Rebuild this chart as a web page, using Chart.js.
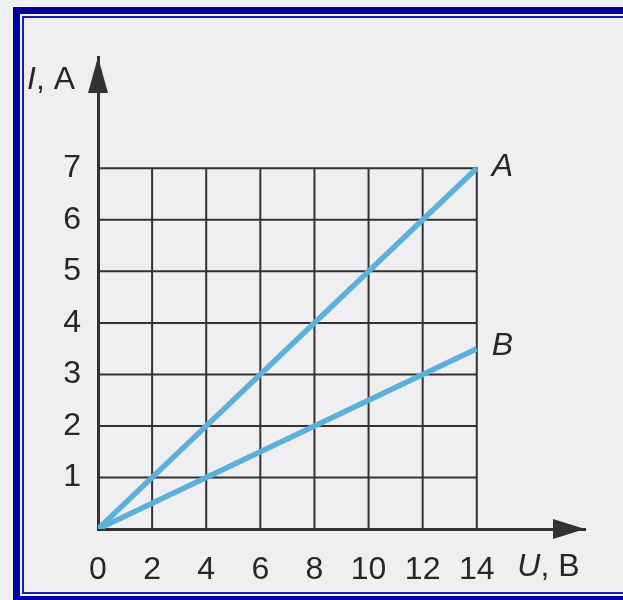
<!DOCTYPE html>
<html lang="ru">
<head>
<meta charset="UTF-8">
<title>I(U)</title>
<script src="https://cdn.jsdelivr.net/npm/chart.js"></script>
<style>
    html, body {
        margin: 0;
        padding: 0;
        width: 623px;
        height: 600px;
        overflow: hidden;
        background: #eef0f6;
    }
    .frame {
        position: absolute;
        left: 13px;
        top: 7px;
        width: 700px;
        height: 596px;
        box-sizing: border-box;
        border: 7px solid #00009a;
        background: #eef0f8;
    }
    .frame-inner {
        position: absolute;
        left: 2px;
        top: 2px;
        right: 2px;
        bottom: 2px;
        border: 2px solid #1c1cb0;
        background: #efeff2;
    }
    #chart {
        position: absolute;
        left: 0;
        top: 0;
    }
</style>
</head>
<body>
<div class="frame"><div class="frame-inner"></div></div>
<canvas id="chart" width="623" height="600"></canvas>
<script>
    // U, B  and  I, A
    const U_VALUES = [0, 14];
    const I_LINE_A = [0, 7];
    const I_LINE_B = [0, 3.5];
    const X_TICKS = [0, 2, 4, 6, 8, 10, 12, 14];
    const Y_TICKS = [1, 2, 3, 4, 5, 6, 7];
    const GRID_X = [2, 4, 6, 8, 10, 12, 14];
    const GRID_Y = [1, 2, 3, 4, 5, 6, 7];

    const INK = '#363131';
    const TEXT = '#2a2626';
    const LINE_BLUE = '#5cb0da';
    const FONT = '"Liberation Sans", Arial, sans-serif';
    const SIZE = 32;

    // grid of squares inside 0..14 x 0..7
    const gridPlugin = {
        id: 'paperGrid',
        beforeDatasetsDraw(chart) {
            const {ctx, scales: {x, y}} = chart;
            ctx.save();
            ctx.strokeStyle = INK;
            ctx.lineWidth = 2;
            ctx.beginPath();
            GRID_X.forEach(v => {
                const px = x.getPixelForValue(v);
                ctx.moveTo(px, y.getPixelForValue(0));
                ctx.lineTo(px, y.getPixelForValue(7) - 1);
            });
            GRID_Y.forEach(v => {
                const py = y.getPixelForValue(v);
                ctx.moveTo(x.getPixelForValue(0), py);
                ctx.lineTo(x.getPixelForValue(14) + 1, py);
            });
            ctx.stroke();
            ctx.restore();
        }
    };

    // arrowheads, axis names and line names
    const annotatePlugin = {
        id: 'annotate',
        afterDraw(chart) {
            const {ctx, chartArea, scales: {x, y}} = chart;
            ctx.save();
            ctx.fillStyle = INK;

            // x arrow
            ctx.beginPath();
            ctx.moveTo(chartArea.right, chartArea.bottom);
            ctx.lineTo(chartArea.right - 32, chartArea.bottom - 10);
            ctx.lineTo(chartArea.right - 32, chartArea.bottom + 10);
            ctx.closePath();
            ctx.fill();

            // y arrow
            ctx.beginPath();
            ctx.moveTo(chartArea.left, chartArea.top);
            ctx.lineTo(chartArea.left - 10, chartArea.top + 36);
            ctx.lineTo(chartArea.left + 10, chartArea.top + 36);
            ctx.closePath();
            ctx.fill();

            ctx.fillStyle = TEXT;
            ctx.textBaseline = 'middle';
            ctx.textAlign = 'left';

            // "I, A"
            let tx = 27;
            let ty = y.getPixelForValue(8.72);
            ctx.font = 'italic ' + SIZE + 'px ' + FONT;
            ctx.fillText('I', tx, ty);
            tx += ctx.measureText('I').width;
            ctx.font = SIZE + 'px ' + FONT;
            ctx.fillText(', A', tx, ty);

            // "U, B"
            tx = x.getPixelForValue(15.5);
            ty = y.getPixelForValue(0) + 38;
            ctx.font = 'italic ' + SIZE + 'px ' + FONT;
            ctx.fillText('U', tx, ty);
            tx += ctx.measureText('U').width;
            ctx.font = SIZE + 'px ' + FONT;
            ctx.fillText(', B', tx, ty);

            // line names
            ctx.font = 'italic ' + SIZE + 'px ' + FONT;
            const endX = x.getPixelForValue(U_VALUES[U_VALUES.length - 1]) + 15;
            ctx.fillText('A', endX, y.getPixelForValue(I_LINE_A[I_LINE_A.length - 1]) - 1);
            ctx.fillText('B', endX, y.getPixelForValue(I_LINE_B[I_LINE_B.length - 1]) - 3);

            ctx.restore();
        }
    };

    const toPoints = vals => vals.map((v, i) => ({x: U_VALUES[i], y: v}));

    const axisCommon = {
        type: 'linear',
        grid: {display: false, drawTicks: false},
        border: {display: true, color: INK, width: 3},
        ticks: {
            color: TEXT,
            font: {family: FONT, size: SIZE},
            padding: 16
        }
    };

    new Chart(document.getElementById('chart'), {
        type: 'scatter',
        data: {
            datasets: [
                {
                    label: 'A',
                    data: toPoints(I_LINE_A),
                    showLine: true,
                    borderColor: LINE_BLUE,
                    borderWidth: 5.5,
                    pointRadius: 0
                },
                {
                    label: 'B',
                    data: toPoints(I_LINE_B),
                    showLine: true,
                    borderColor: LINE_BLUE,
                    borderWidth: 5.5,
                    pointRadius: 0
                }
            ]
        },
        options: {
            responsive: false,
            animation: false,
            layout: {padding: {top: 57, right: 38, left: 0, bottom: 0}},
            plugins: {
                legend: {display: false},
                tooltip: {enabled: false}
            },
            scales: {
                x: {
                    ...axisCommon,
                    min: 0,
                    max: 18,
                    ticks: {...axisCommon.ticks, padding: 22},
                    afterBuildTicks: s => { s.ticks = X_TICKS.map(v => ({value: v})); },
                    afterFit: s => { s.height = 71; }
                },
                y: {
                    ...axisCommon,
                    min: 0,
                    max: 9.16,
                    ticks: {...axisCommon.ticks, padding: 17},
                    afterBuildTicks: s => { s.ticks = Y_TICKS.map(v => ({value: v})); },
                    afterFit: s => { s.width = 98; }
                }
            }
        },
        plugins: [gridPlugin, annotatePlugin]
    });
</script>
</body>
</html>
